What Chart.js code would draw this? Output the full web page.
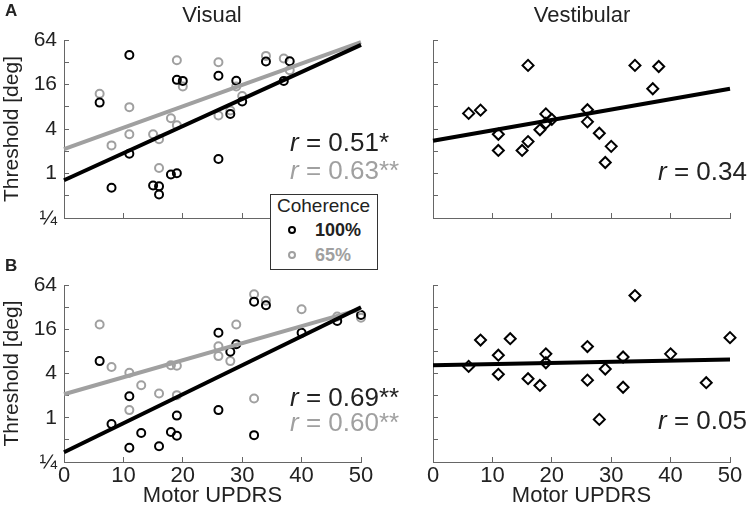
<!DOCTYPE html>
<html>
<head>
<meta charset="utf-8">
<script src="https://cdn.jsdelivr.net/npm/chart.js@4.4.0/dist/chart.umd.min.js"></script>
<style>
  body { margin: 0; background: #fff; font-family: "Liberation Sans", Arial, sans-serif; color: #222; }
  #wrap { position: relative; width: 752px; height: 513px; overflow: hidden; }
  canvas { position: absolute; left: 0; top: 0; }
  .txt { position: absolute; white-space: nowrap; z-index: 5; }
  .head { font-size: 22px; line-height: 26px; }
  .panel { font-size: 17px; line-height: 20px; font-weight: bold; }
  .rval { font-size: 26px; line-height: 30px; }
  .gray { color: #a0a0a0; }
  #legend { position: absolute; left: 270px; top: 194px; width: 106px; height: 74px;
            border: 1px solid #333; background: #fff; z-index: 6; }
  #legend .txt { z-index: 7; }
  .dot { position: absolute; width: 4px; height: 4px; border: 2px solid #000; border-radius: 50%; }
</style>
</head>
<body>
<div id="wrap">
  <canvas id="chartA1" width="752" height="513"></canvas>
  <canvas id="chartA2" width="752" height="513"></canvas>
  <canvas id="chartB1" width="752" height="513"></canvas>
  <canvas id="chartB2" width="752" height="513"></canvas>

  <div class="txt head" style="left:212px; top:2px; transform:translateX(-50%);">Visual</div>
  <div class="txt head" style="left:582px; top:2px; transform:translateX(-50%);">Vestibular</div>
  <div class="txt panel" style="left:5px; top:1px;">A</div>
  <div class="txt panel" style="left:5px; top:256px;">B</div>

  <div class="txt rval" style="left:290px; top:127px;"><i>r</i> = 0.51*</div>
  <div class="txt rval gray" style="left:290px; top:155px;"><i>r</i> = 0.63**</div>
  <div class="txt rval" style="left:658px; top:156px;"><i>r</i> = 0.34</div>
  <div class="txt rval" style="left:290px; top:382px;"><i>r</i> = 0.69**</div>
  <div class="txt rval gray" style="left:290px; top:407px;"><i>r</i> = 0.60**</div>
  <div class="txt rval" style="left:658px; top:405px;"><i>r</i> = 0.05</div>

  <div id="legend">
    <div class="txt" style="left:6px; top:-1px; font-size:19px; line-height:24px;">Coherence</div>
    <span class="dot" style="left:17px; top:31px;"></span>
    <div class="txt" style="left:44px; top:24px; font-size:18px; line-height:22px; font-weight:bold;">100%</div>
    <span class="dot" style="left:17px; top:56px; border-color:#a0a0a0;"></span>
    <div class="txt gray" style="left:44px; top:49px; font-size:18px; line-height:22px; font-weight:bold;">65%</div>
  </div>
</div>

<script>
// y axis is log2, labels only every other power of two
const yTickValues = [0.25, 0.5, 1, 2, 4, 8, 16, 32, 64];
const yTickLabels = ['¼', '', '1', '', '4', '', '16', '', '64'];
const xTickLabels = ['0', '10', '20', '30', '40', '50'];

// motor UPDRS of the subjects, top row (A) and bottom row (B)
const updrsA = [6, 8, 11, 11, 15, 16, 16, 18, 19, 19, 20, 26, 26, 28, 29, 30, 34, 37, 38];
const updrsB = [6, 8, 11, 11, 13, 16, 18, 19, 19, 26, 26, 28, 29, 32, 32, 34, 40, 46, 50];

// thresholds [deg]
const visualA100 = [9.1, 0.64, 40, 1.85, 0.69, 0.67, 0.52, 0.97, 1.01, 18.5, 17.9, 21, 1.57, 6.4, 18, 9.4, 32.7, 17.9, 33];
const visualA65 = [12, 2.4, 7.9, 3.4, 3.4, 2.9, 1.19, 5.6, 34, 4.5, 15, 32, 6.1, 7.1, 15, 11.2, 39, 36, 25];
const vestibA = [6.5, 7.2, 3.4, 2.05, 2.05, 29, 2.7, 3.9, 6.4, 4.8, 5.4, 7.3, 5.0, 3.5, 1.41, 2.33, 29, 14, 28];

const visualB100 = [5.9, 0.82, 1.96, 0.39, 0.62, 0.41, 0.64, 1.07, 0.57, 14.3, 1.27, 7.9, 10, 38, 0.58, 34, 14.3, 20.7, 25];
const visualB65 = [18.6, 4.9, 4.1, 1.27, 2.77, 2.14, 5.2, 5.1, 2.03, 9.4, 6.9, 5.9, 18.6, 48, 1.83, 39, 30, 23.8, 23];
const vestibB = [5.0, 11.4, 7.1, 3.9, 11.9, 3.4, 2.75, 7.4, 5.6, 9.3, 3.25, 0.95, 4.6, 6.7, 2.6, 46, 7.4, 3.0, 12.3];

// regression lines: threshold at UPDRS 0 and 50
const fitX = [0, 50];
const fitA100 = [0.81, 55];
const fitA65 = [2.14, 60];
const fitAvest = [2.77, 14];
const fitB100 = [0.34, 31.8];
const fitB65 = [2.09, 30];
const fitBvest = [5.2, 6.2];

const BLACK = '#000000';
const GRAY = '#a0a0a0';
const AXIS = '#666666';
const FONT = '"Liberation Sans", Arial, sans-serif';

function pts(xs, ys) {
  return xs.map((x, i) => ({ x: x, y: ys[i] }));
}

function fitLine(ys, color) {
  return { type: 'line', data: pts(fitX, ys), borderColor: color, borderWidth: 4,
           pointRadius: 0, fill: false, clip: false };
}

function markers(xs, ys, color, style) {
  return { type: 'scatter', data: pts(xs, ys), pointStyle: style,
           pointRadius: style === 'rectRot' ? 5.5 : 4, borderColor: color, borderWidth: 2,
           backgroundColor: 'rgba(0,0,0,0)', clip: false };
}

function makePanel(id, datasets, pad, leftLabels, bottomLabels) {
  const ctx = document.getElementById(id).getContext('2d');
  return new Chart(ctx, {
    type: 'scatter',
    data: { datasets: datasets },
    options: {
      responsive: false,
      animation: false,
      devicePixelRatio: 1,
      layout: { padding: pad },
      plugins: { legend: { display: false }, tooltip: { enabled: false } },
      scales: {
        x: {
          type: 'linear', min: 0, max: 50,
          afterFit: s => { s.height = bottomLabels ? 51 : 10; },
          border: { color: AXIS, width: 1 },
          grid: { drawOnChartArea: false, tickLength: -5, color: AXIS },
          ticks: {
            stepSize: 10, padding: 6, maxRotation: 0, color: '#222',
            font: { family: FONT, size: 22 },
            callback: (v, i) => bottomLabels ? xTickLabels[i] : ''
          },
          title: { display: bottomLabels, text: 'Motor UPDRS', color: '#222',
                   font: { family: FONT, size: 22 }, padding: { top: 0, bottom: 4 } }
        },
        y: {
          type: 'logarithmic', min: 0.25, max: 64,
          afterBuildTicks: s => { s.ticks = yTickValues.map(v => ({ value: v })); },
          afterFit: s => { s.width = leftLabels ? 64 : 10; },
          border: { color: AXIS, width: 1 },
          grid: { drawOnChartArea: false, tickLength: -5, color: AXIS },
          ticks: {
            autoSkip: false, padding: 12, color: '#222',
            font: { family: FONT, size: 21 },
            callback: v => {
              if (!leftLabels) return '';
              const i = yTickValues.indexOf(v);
              return i >= 0 ? yTickLabels[i] : '';
            }
          },
          title: { display: leftLabels, text: 'Threshold [deg]', color: '#222',
                   font: { family: FONT, size: 21 }, padding: { top: 0, bottom: 0 } }
        }
      }
    }
  });
}

// A: visual
makePanel('chartA1', [
  fitLine(fitA100, BLACK),
  fitLine(fitA65, GRAY),
  markers(updrsA, visualA100, BLACK, 'circle'),
  markers(updrsA, visualA65, GRAY, 'circle')
], { left: 0, top: 40, right: 391, bottom: 285 }, true, false);

// A: vestibular
makePanel('chartA2', [
  fitLine(fitAvest, BLACK),
  markers(updrsA, vestibA, BLACK, 'rectRot')
], { left: 423, top: 40, right: 22, bottom: 285 }, false, false);

// B: visual
makePanel('chartB1', [
  fitLine(fitB100, BLACK),
  fitLine(fitB65, GRAY),
  markers(updrsB, visualB100, BLACK, 'circle'),
  markers(updrsB, visualB65, GRAY, 'circle')
], { left: 0, top: 285, right: 391, bottom: 0 }, true, true);

// B: vestibular
makePanel('chartB2', [
  fitLine(fitBvest, BLACK),
  markers(updrsB, vestibB, BLACK, 'rectRot')
], { left: 423, top: 285, right: 22, bottom: 0 }, false, true);
</script>
</body>
</html>
